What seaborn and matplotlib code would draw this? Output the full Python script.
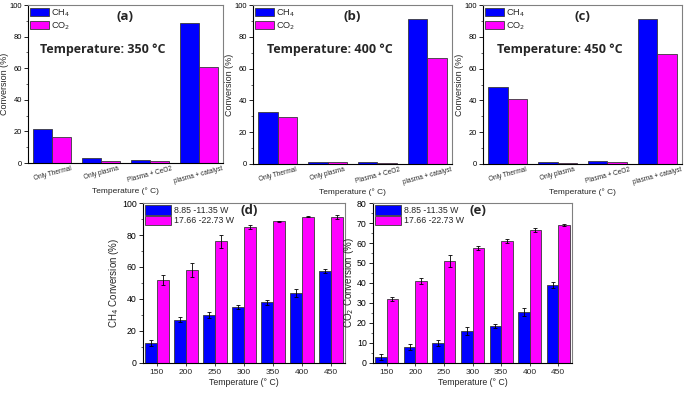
import numpy as np
import pandas as pd
import matplotlib
matplotlib.use("Agg")
import matplotlib.pyplot as plt
import seaborn as sns
from matplotlib.ticker import MultipleLocator

sns.set_theme(style="ticks")
plt.rcParams['font.family'] = ['Liberation Sans', 'DejaVu Sans']

# ---------------- data ----------------
methods = ["Only Thermal", "Only plasma", "Plasma + CeO2", "plasma + catalyst"]
gases = ["CH$_4$", "CO$_2$"]
ch4_350 = [21.5, 3.0, 2.0, 88.5]
co2_350 = [16.5, 1.2, 1.0, 61.0]
ch4_400 = [32.5, 1.5, 1.5, 91.5]
co2_400 = [29.5, 1.2, 0.8, 66.5]
ch4_450 = [48.5, 1.0, 1.8, 91.0]
co2_450 = [41.0, 0.5, 1.5, 69.0]
top_titles = ["Temperature: 350 °C", "Temperature: 400 °C", "Temperature: 450 °C"]
top_tags = ["(a)", "(b)", "(c)"]

temps = ["150", "200", "250", "300", "350", "400", "450"]
powers = ["8.85 -11.35 W", "17.66 -22.73 W"]
ch4_low = [12.5, 27.0, 30.0, 35.0, 38.0, 44.0, 57.5]
ch4_low_err = [2.0, 1.5, 2.0, 1.5, 1.5, 2.5, 1.5]
ch4_high = [52.0, 58.0, 76.0, 85.0, 88.5, 91.5, 91.0]
ch4_high_err = [3.0, 4.5, 4.0, 1.5, 0.5, 0.3, 1.2]
co2_low = [3.0, 8.0, 10.0, 16.0, 18.5, 25.5, 39.0]
co2_low_err = [1.5, 1.5, 1.3, 2.0, 1.0, 2.2, 1.5]
co2_high = [32.0, 41.0, 51.0, 57.5, 61.0, 66.5, 69.0]
co2_high_err = [1.2, 1.5, 2.8, 0.8, 0.8, 1.0, 0.7]

BLUE = "#0000ff"
MAG = "#ff00ff"
EDGE = "#3a3a3a"

W, H = 685, 394
fig = plt.figure(figsize=(W / 100, H / 100), dpi=100)


def ax_at(l, t, r, b):
    return fig.add_axes([l / W, 1 - b / H, (r - l) / W, (b - t) / H])


def style(ax, major, minor, top, ls):
    ax.yaxis.set_major_locator(MultipleLocator(major))
    ax.yaxis.set_minor_locator(MultipleLocator(minor))
    ax.set_ylim(0, top)
    for s in ["left", "bottom"]:
        ax.spines[s].set_color("black")
        ax.spines[s].set_linewidth(0.8)
    for s in ["top", "right"]:
        ax.spines[s].set_visible(True)
        ax.spines[s].set_color("#808080")
        ax.spines[s].set_linewidth(0.8)
    ax.tick_params(axis="y", which="major", direction="out", length=3, width=0.6,
                   labelsize=ls, pad=1.5, colors="black")
    ax.tick_params(axis="y", which="minor", direction="out", length=1.8, width=0.5)


top_boxes = [(28, 5, 223, 163), (253, 5, 452, 164), (483, 5, 682, 164)]
top_data = [(ch4_350, co2_350), (ch4_400, co2_400), (ch4_450, co2_450)]

for (box, (c1, c2), title, tag) in zip(top_boxes, top_data, top_titles, top_tags):
    ax = ax_at(*box)
    df = pd.DataFrame({
        "method": methods * 2,
        "gas": [gases[0]] * 4 + [gases[1]] * 4,
        "val": list(c1) + list(c2),
    })
    sns.barplot(data=df, x="method", y="val", hue="gas", order=methods,
                hue_order=gases, palette=[BLUE, MAG], width=0.78,
                edgecolor=EDGE, linewidth=0.6, saturation=1, ax=ax, errorbar=None)
    ax.set_xlim(-0.5, 3.5)
    style(ax, 20, 10, 100, 5.4)
    ax.tick_params(axis="x", which="major", length=0, labelsize=4.7, pad=1.5)
    for lab in ax.get_xticklabels():
        lab.set_rotation(15)
        lab.set_ha("center")
    ax.set_xlabel("Temperature (° C)", fontsize=6.0, labelpad=1.5)
    ax.set_ylabel("Conversion (%)", fontsize=6.5, labelpad=0.3)
    leg = ax.legend(loc="upper left", fontsize=6.6, frameon=False,
                    handlelength=2.0, handleheight=1.05, borderaxespad=0.15,
                    labelspacing=0.15, handletextpad=0.3, borderpad=0.1)
    ax.text(0.5, 0.93, tag, transform=ax.transAxes, fontsize=9.5,
            fontweight="bold", family=["Open Sans", "DejaVu Sans"],
            ha="center", va="center")
    ax.text(0.385, 0.72, title, transform=ax.transAxes, fontsize=9,
            fontweight="bold", family=["Open Sans", "DejaVu Sans"],
            ha="center", va="center")

bot_boxes = [(143, 203, 345, 363), (373, 203, 572, 363)]
bot_data = [
    (ch4_low, ch4_low_err, ch4_high, ch4_high_err, "CH$_4$ Conversion (%)", 100, 20, 10, "(d)"),
    (co2_low, co2_low_err, co2_high, co2_high_err, "CO$_2$ Conversion (%)", 80, 10, 5, "(e)"),
]

for box, (lo, loe, hi, hie, ylab, top, maj, mnr, tag) in zip(bot_boxes, bot_data):
    ax = ax_at(*box)
    df = pd.DataFrame({
        "temp": temps * 2,
        "power": [powers[0]] * 7 + [powers[1]] * 7,
        "val": list(lo) + list(hi),
    })
    sns.barplot(data=df, x="temp", y="val", hue="power", order=temps,
                hue_order=powers, palette=[BLUE, MAG], width=0.8,
                edgecolor=EDGE, linewidth=0.6, saturation=1, ax=ax, errorbar=None)
    for cont, errs in zip(ax.containers, [loe, hie]):
        xs = [p.get_x() + p.get_width() / 2 for p in cont.patches]
        ys = [p.get_height() for p in cont.patches]
        ax.errorbar(xs, ys, yerr=errs, fmt="none", ecolor="black",
                    elinewidth=0.6, capsize=1.6, capthick=0.6, zorder=5)
    ax.set_xlim(-0.48, 6.48)
    style(ax, maj, mnr, top, 6.3)
    ax.tick_params(axis="x", which="major", direction="out", length=2.5, width=0.6,
                   labelsize=6.0, pad=1.5)
    ax.set_xlabel("Temperature (° C)", fontsize=6.3, labelpad=2)
    ax.set_ylabel(ylab, fontsize=7.0, labelpad=0.8)
    leg = ax.legend(loc="upper left", fontsize=6.3, frameon=False,
                    handlelength=3.0, handleheight=1.3, borderaxespad=0.15,
                    labelspacing=0.1, handletextpad=0.25, borderpad=0.1)
    ax.text(0.525, 0.955, tag, transform=ax.transAxes, fontsize=9.5,
            fontweight="bold", family=["Open Sans", "DejaVu Sans"],
            ha="center", va="center")

fig.savefig("out.png", dpi=100)
